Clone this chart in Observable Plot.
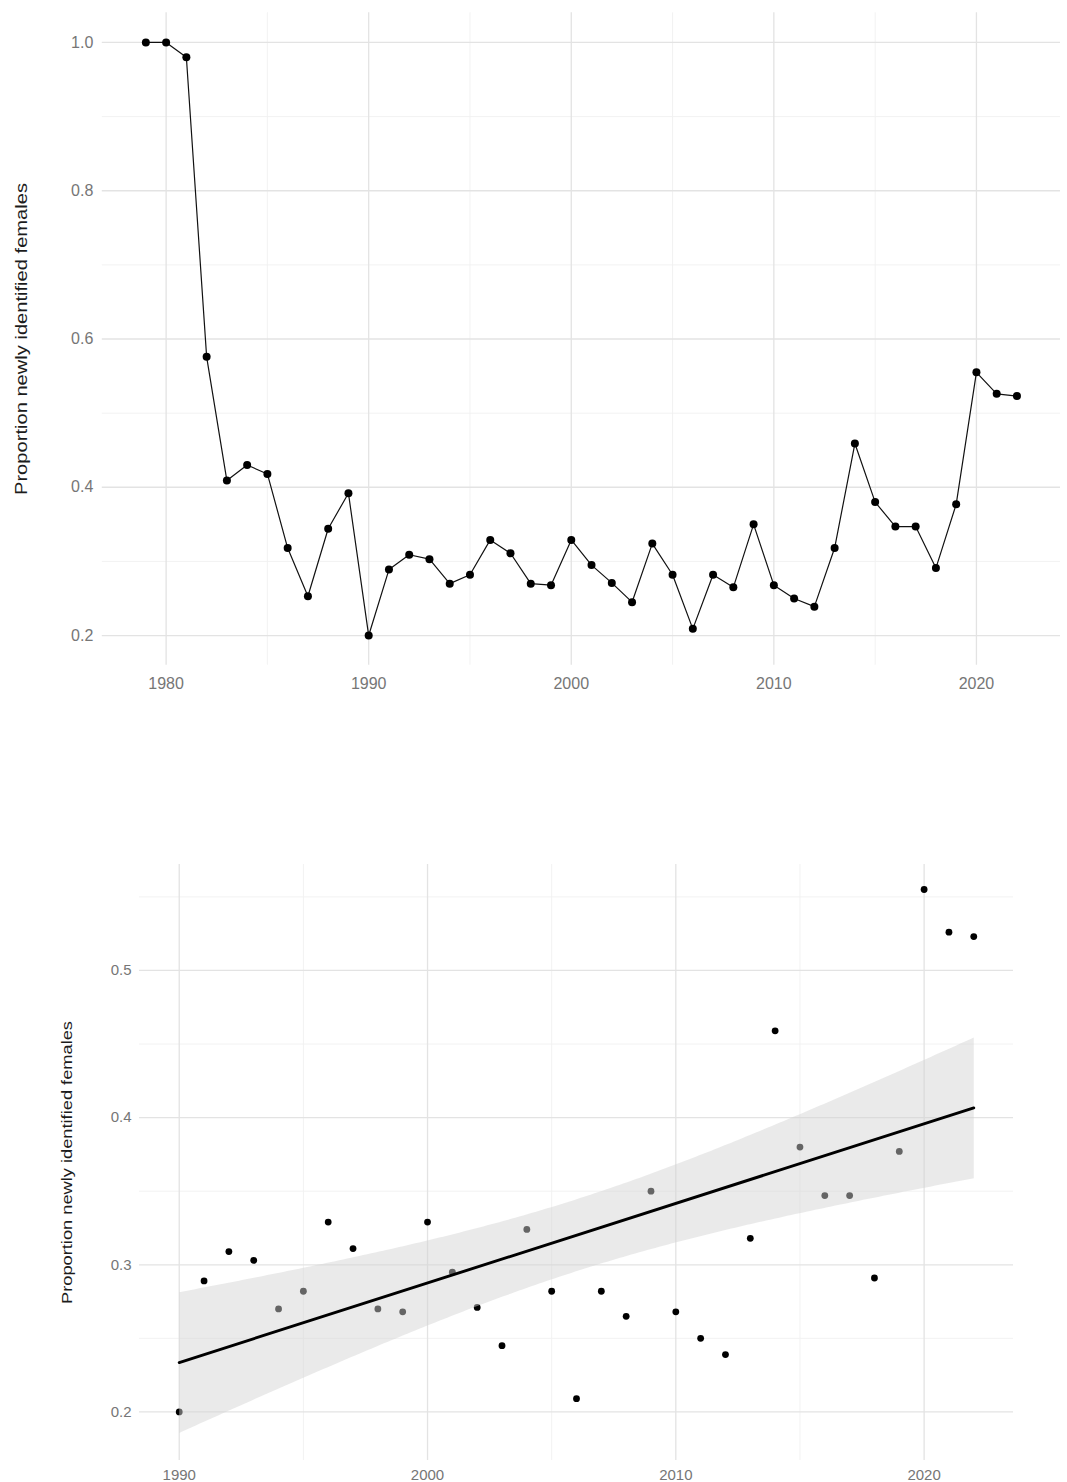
<!DOCTYPE html>
<html>
<head>
<meta charset="utf-8">
<script src="https://cdn.jsdelivr.net/npm/d3@7"></script>
<script src="https://cdn.jsdelivr.net/npm/@observablehq/plot@0.6"></script>
<style>
  html, body { margin: 0; padding: 0; background: #ffffff; }
  #chart svg { display: block; }
</style>
</head>
<body>
<div id="chart"></div>
<script>
// Proportion of newly identified individuals that were female, per year
const years = [
  1979, 1980, 1981, 1982, 1983, 1984, 1985, 1986, 1987, 1988, 1989,
  1990, 1991, 1992, 1993, 1994, 1995, 1996, 1997, 1998, 1999,
  2000, 2001, 2002, 2003, 2004, 2005, 2006, 2007, 2008, 2009,
  2010, 2011, 2012, 2013, 2014, 2015, 2016, 2017, 2018, 2019,
  2020, 2021, 2022
];
const proportion = [
  1.000, 1.000, 0.980, 0.576, 0.409, 0.430, 0.418, 0.318, 0.253, 0.344, 0.392,
  0.200, 0.289, 0.309, 0.303, 0.270, 0.282, 0.329, 0.311, 0.270, 0.268,
  0.329, 0.295, 0.271, 0.245, 0.324, 0.282, 0.209, 0.282, 0.265, 0.350,
  0.268, 0.250, 0.239, 0.318, 0.459, 0.380, 0.347, 0.347, 0.291, 0.377,
  0.555, 0.526, 0.523
];

const yTitle = "Proportion newly identified females";

// full series panel
const fullXTicks = [1980, 1990, 2000, 2010, 2020];
const fullXMinor = [1985, 1995, 2005, 2015];
const fullYTicks = [0.2, 0.4, 0.6, 0.8, 1.0];
const fullYMinor = [0.3, 0.5, 0.7, 0.9];

// trend panel (from 1990 onward)
const trendStart = 1990;
const trendXTicks = [1990, 2000, 2010, 2020];
const trendXMinor = [1995, 2005, 2015];
const trendYTicks = [0.2, 0.3, 0.4, 0.5];
const trendYMinor = [0.25, 0.35, 0.45, 0.55];

const rows = years.map((year, i) => ({year, proportion: proportion[i]}));
const recent = rows.filter(d => d.year >= trendStart);

// 5% padding on each side of a continuous range
const padded = ([lo, hi]) => [lo - 0.05 * (hi - lo), hi + 0.05 * (hi - lo)];

const font = "'Liberation Sans', Arial, Helvetica, sans-serif";
const tickColor = "#767676";
const majorGrid = {stroke: "#e3e3e3", strokeOpacity: 1, strokeWidth: 1.3};
const minorGrid = {stroke: "#f0f0f0", strokeOpacity: 1, strokeWidth: 0.9};

// vertical axis title, anchored at its lower end and reading upward
function axisTitle(dx, dy, fontSize) {
  return Plot.text([yTitle], {
    text: d => d, frameAnchor: "left", rotate: -90, textAnchor: "start",
    dx, dy, fontSize, fill: "#1c1c1c"
  });
}

const fullPlot = Plot.plot({
  width: 1067,
  height: 700,
  marginLeft: 101.8,
  marginRight: 7,
  marginTop: 12.3,
  marginBottom: 35.3,
  style: {fontFamily: font, background: "#ffffff"},
  x: {domain: padded(d3.extent(years)), axis: null},
  y: {domain: padded([0.2, 1.0]), axis: null},
  marks: [
    Plot.gridX(fullXMinor, minorGrid),
    Plot.gridY(fullYMinor, minorGrid),
    Plot.gridX(fullXTicks, majorGrid),
    Plot.gridY(fullYTicks, majorGrid),
    Plot.line(rows, {x: "year", y: "proportion", stroke: "#111111", strokeWidth: 1.2}),
    Plot.dot(rows, {x: "year", y: "proportion", r: 4, fill: "#000000"}),
    Plot.axisX(fullXTicks, {tickSize: 0, tickPadding: 12, fontSize: 16, color: tickColor, label: null, tickFormat: d3.format("d")}),
    Plot.axisY(fullYTicks, {tickSize: 0, tickPadding: 9, fontSize: 16, color: tickColor, label: null, tickFormat: d3.format(".1f")}),
    axisTitle(-81, 156, 17)
  ]
});

const trendPlot = Plot.plot({
  width: 1067,
  height: 782,
  marginLeft: 139,
  marginRight: 54,
  marginTop: 164,
  marginBottom: 22,
  style: {fontFamily: font, background: "#ffffff"},
  x: {domain: padded(d3.extent(recent, d => d.year)), axis: null},
  y: {domain: [0.167, 0.572], axis: null},
  marks: [
    Plot.gridX(trendXMinor, minorGrid),
    Plot.gridY(trendYMinor, minorGrid),
    Plot.gridX(trendXTicks, majorGrid),
    Plot.gridY(trendYTicks, majorGrid),
    Plot.dot(recent, {x: "year", y: "proportion", r: 3.4, fill: "#000000"}),
    Plot.linearRegressionY(recent, {
      x: "year", y: "proportion", ci: 0.95,
      stroke: "#000000", strokeWidth: 2.9,
      fill: "#d4d4d4", fillOpacity: 0.48
    }),
    Plot.axisX(trendXTicks, {tickSize: 0, tickPadding: 9, fontSize: 15, color: tickColor, label: null, tickFormat: d3.format("d")}),
    Plot.axisY(trendYTicks, {tickSize: 0, tickPadding: 8, fontSize: 15, color: tickColor, label: null, tickFormat: d3.format(".1f")}),
    axisTitle(-72, 141.5, 15.5)
  ]
});

// the axis titles are drawn slightly elongated along their reading direction
function stretchTitle(svg, length) {
  svg.querySelectorAll('g[aria-label="text"] text').forEach(t => {
    t.setAttribute("textLength", length);
    t.setAttribute("lengthAdjust", "spacingAndGlyphs");
  });
}
stretchTitle(fullPlot, 312);
stretchTitle(trendPlot, 283);

const root = document.getElementById("chart");
root.appendChild(fullPlot);
root.appendChild(trendPlot);
</script>
</body>
</html>
